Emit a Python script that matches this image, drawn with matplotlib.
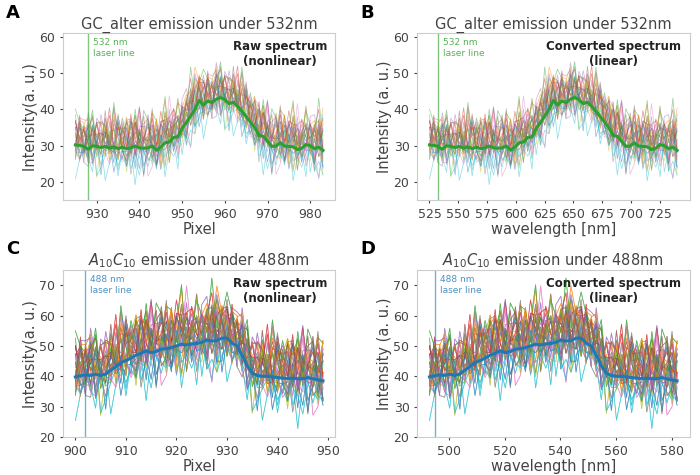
import numpy as np
import matplotlib.pyplot as plt

# 平均谱线
pix_a = np.arange(925, 984)
mean_a = [30.2, 30.1, 29.8, 29.0, 30.0, 29.8, 29.5, 29.8, 29.3, 29.7, 29.2, 29.6, 29.2, 29.4, 29.9,
          29.4, 29.3, 29.4, 29.9, 28.8, 29.6, 30.8, 31.0, 32.3, 32.4, 34.8, 36.4, 38.2, 40.0, 42.5,
          41.2, 42.3, 41.9, 42.8, 43.3, 42.7, 41.6, 42.0, 40.8, 39.5, 38.0, 36.5, 35.0, 32.8, 32.6,
          31.2, 29.8, 29.9, 30.8, 29.9, 29.8, 29.7, 28.9, 29.3, 30.3, 30.0, 29.2, 29.6, 28.7]
pix_c = np.arange(900, 950)
mean_c = [39.8, 40.2, 40.5, 40.3, 40.7, 40.3, 40.8, 42.0, 43.2, 44.5, 45.2, 46.0, 47.0, 47.6, 48.4,
          47.8, 48.2, 49.0, 49.1, 49.5, 50.0, 50.6, 50.3, 50.7, 50.8, 51.2, 52.0, 51.6, 51.8, 52.6,
          52.6, 51.0, 50.0, 47.0, 43.5, 41.0, 40.3, 40.0, 40.0, 39.8, 39.6, 39.4, 39.3, 39.4, 39.2,
          39.2, 39.6, 39.2, 38.8, 38.5]

# 手工抄录的起伏模式, 每条单谱 = 平均 + 偏移 + 起伏
dev = np.array([
    [2, -3, 1, 4, -2, 0, -4, 3, 1, -1, 5, -2, -3, 2, 0, 3, -5, 1, 2, -1, -3, 4, 0, -2, 1, 3, -4, 2, -1, 0],
    [-1, 2, -4, 0, 3, -2, 1, 5, -3, 2, -1, 0, 4, -2, -4, 1, 2, -3, 0, 3, -1, -2, 5, 1, -3, 0, 2, -4, 3, 1],
    [3, 0, -2, -1, 4, 2, -3, 0, 2, -4, 1, 3, -1, 0, 5, -2, -1, 2, -3, 1, 4, 0, -2, 3, -1, -4, 1, 2, 0, -3],
    [0, 4, 2, -3, -1, 1, 3, -2, 0, 4, -3, -1, 2, 1, -2, 0, 3, -4, 1, 2, -1, 3, -3, 0, 4, -2, -1, 1, -2, 2],
    [-3, 1, 0, 2, -4, 3, 0, -1, 4, -2, 2, -3, 1, 3, -1, -2, 0, 4, -2, -3, 2, 1, -1, 4, -2, 1, 3, -1, 2, -4],
    [1, -2, 3, -3, 0, -4, 2, 1, -1, 3, 0, 4, -2, -3, 1, 2, -1, 0, 3, -2, 1, -4, 2, 0, -1, 3, -2, 4, -3, 1],
])

fig = plt.figure(figsize=(7, 4.75), dpi=100)
plt.rcParams['font.family'] = 'DejaVu Sans'
grey = '#444444'

panels = [
    # letter, pixel, mean, title, 是否换算, 线色, 激光线, 条数, 噪声幅度, ylim
    ('A', pix_a, mean_a, 'GC_alter emission under 532nm', False, '#2ca02c', 928, 60, 1.3, (15, 61)),
    ('B', pix_a, mean_a, 'GC_alter emission under 532nm', True, '#2ca02c', 928, 60, 1.3, (15, 61)),
    ('C', pix_c, mean_c, '$A_{10}C_{10}$ emission under 488nm', False, '#1f77b4', 902, 150, 2.0, (20, 75)),
    ('D', pix_c, mean_c, '$A_{10}C_{10}$ emission under 488nm', True, '#1f77b4', 902, 150, 2.0, (20, 75)),
]

for i, (letter, pix, mean, title, linear, col, laser, n, amp, ylim) in enumerate(panels):
    ax = plt.subplot(2, 2, i + 1)
    mean = np.array(mean)
    if linear:
        if letter == 'B':
            x = 525 + (pix - 925) * (740 - 525) / 58.0
            laser_x = 532
        else:
            x = 493 + (pix - 900) * (582 - 493) / 49.0
            laser_x = 495
    else:
        x = pix
        laser_x = laser
    cols = plt.rcParams['axes.prop_cycle'].by_key()['color']
    for k in range(n):
        row = np.roll(np.tile(dev[k % 6], 2), k * 7)[:len(pix)]
        row2 = np.roll(np.tile(dev[(k + 2) % 6], 2), k * 3)[:len(pix)]
        off = dev[(k + 3) % 6][k % 30] * amp * 0.8
        plt.plot(x, mean + off + (row + 0.6 * row2) * amp, color=cols[k % 10], lw=0.5, alpha=0.28)
    plt.plot(x, mean, color=col, lw=2.2)  # 平均谱
    plt.axvline(laser_x, color=col, lw=1, alpha=0.6)
    lbl = '532 nm\nlaser line' if letter in 'AB' else '488 nm\nlaser line'
    plt.text(laser_x + (x[-1] - x[0]) * 0.02, ylim[1] - (ylim[1] - ylim[0]) * 0.03, lbl,
             color=col, fontsize=6.5, ha='left', va='top', alpha=0.8)
    tag = 'Converted spectrum\n(linear)' if linear else 'Raw spectrum\n(nonlinear)'
    plt.text(0.97, 0.96, tag, transform=ax.transAxes, ha='right', va='top',
             fontsize=8.5, fontweight='bold', color='#222222', multialignment='center')
    plt.ylim(*ylim)
    plt.title(title, fontsize=10.5, color=grey, pad=3)
    plt.xlabel('wavelength [nm]' if linear else 'Pixel', fontsize=10.5, color=grey, labelpad=1)
    plt.ylabel('Intensity (a. u.)' if linear else 'Intensity(a. u.)', fontsize=10.5, color=grey, labelpad=1)
    plt.tick_params(labelsize=9, colors=grey, length=2)
    for s in ax.spines.values():
        s.set_color('#cccccc')
    if letter == 'B':
        plt.xticks(np.arange(525, 726, 25))
    ax.text(-0.21, 1.07, letter, transform=ax.transAxes, fontsize=13, fontweight='bold', va='bottom')

plt.subplots_adjust(left=0.09, right=0.985, top=0.93, bottom=0.08, wspace=0.3, hspace=0.42)
plt.savefig('out.png', dpi=100)
